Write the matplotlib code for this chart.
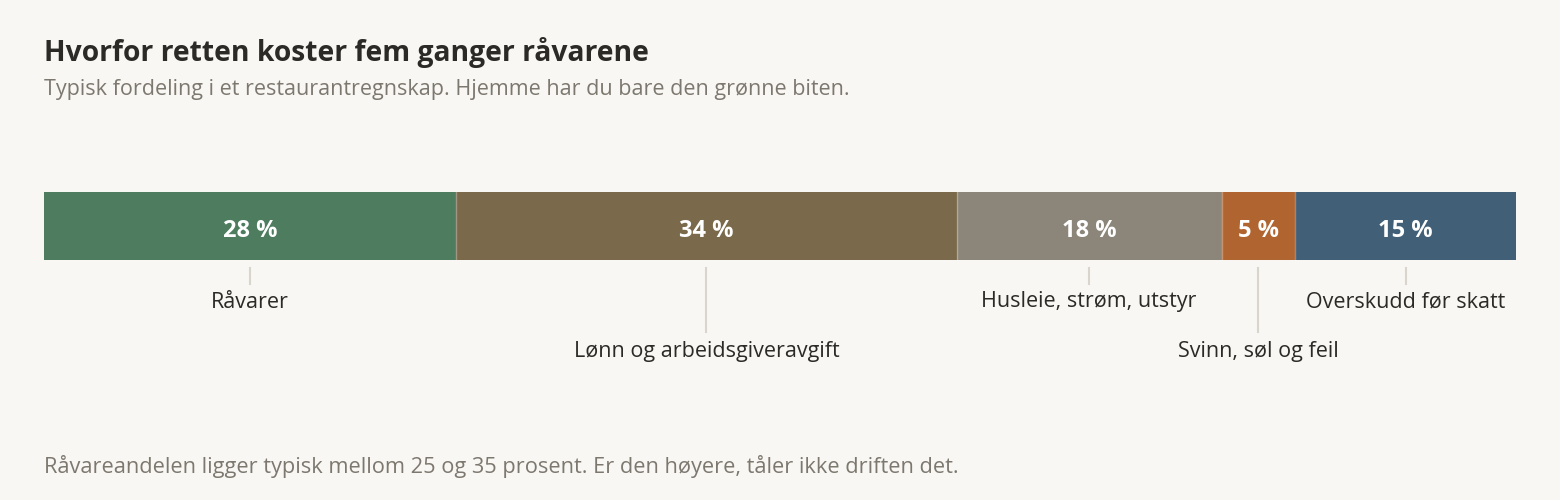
import matplotlib
matplotlib.use("Agg")
from matplotlib import pyplot as plt

# andeler av prisen på en restaurantrett
kategorier = ["Råvarer", "Lønn og arbeidsgiveravgift", "Husleie, strøm, utstyr",
              "Svinn, søl og feil", "Overskudd før skatt"]
andeler = [28, 34, 18, 5, 15]
farger = ["#4d7c5f", "#7a6a4b", "#8c857a", "#b06430", "#416078"]
etikett_rad = [0, 1, 0, 1, 0]  # 0 = rett under, 1 = lengre ned

tittel = "Hvorfor retten koster fem ganger råvarene"
undertittel = "Typisk fordeling i et restaurantregnskap. Hjemme har du bare den grønne biten."
fotnote = "Råvareandelen ligger typisk mellom 25 og 35 prosent. Er den høyere, tåler ikke driften det."

bg = "#f8f7f3"
plt.rcParams['font.family'] = ['Open Sans', 'DejaVu Sans']

W, H = 1560, 500
fig = plt.figure(figsize=(W / 100, H / 100), dpi=100, facecolor=bg)
ax = fig.add_axes([0, 0, 1, 1])
ax.set_facecolor(bg)

# x i prosent, y i piksler fra toppen
venstre, bredde = 44, 1472
skala = 100 / bredde
ax.set_xlim(-venstre * skala, (W - venstre) * skala)
ax.set_ylim(H, 0)
ax.axis("off")

start = 0
for i, (navn, verdi, farge, rad) in enumerate(zip(kategorier, andeler, farger, etikett_rad)):
    ax.barh(226, verdi, left=start, height=68, color=farge, linewidth=0)
    if i > 0:
        # tynn lys skillelinje mellom feltene
        ax.plot([start, start], [192, 260], color="white", alpha=0.3, linewidth=1)
    midt = start + verdi / 2
    ax.text(midt, 231, f"{verdi} %", ha="center", va="center", color="white",
            fontsize=17, fontweight="bold")
    if rad == 0:
        ax.plot([midt, midt], [268, 284], color="#d9d5cc", linewidth=1.5)
        ax.text(midt, 302, navn, ha="center", va="center", color="#2b2a27", fontsize=15.5)
    else:
        ax.plot([midt, midt], [268, 332], color="#d9d5cc", linewidth=1.5)
        ax.text(midt, 351, navn, ha="center", va="center", color="#2b2a27", fontsize=15.5)
    start += verdi

fig.text(44 / W, 1 - 52 / H, tittel, ha="left", va="center", fontsize=20.3,
         fontweight="bold", color="#2b2a27")
fig.text(44 / W, 1 - 90 / H, undertittel, ha="left", va="center", fontsize=15.5,
         color="#7d786f")
fig.text(44 / W, 1 - 467 / H, fotnote, ha="left", va="center", fontsize=15.7,
         color="#7d786f")

fig.savefig("out.png", dpi=100, facecolor=bg)
